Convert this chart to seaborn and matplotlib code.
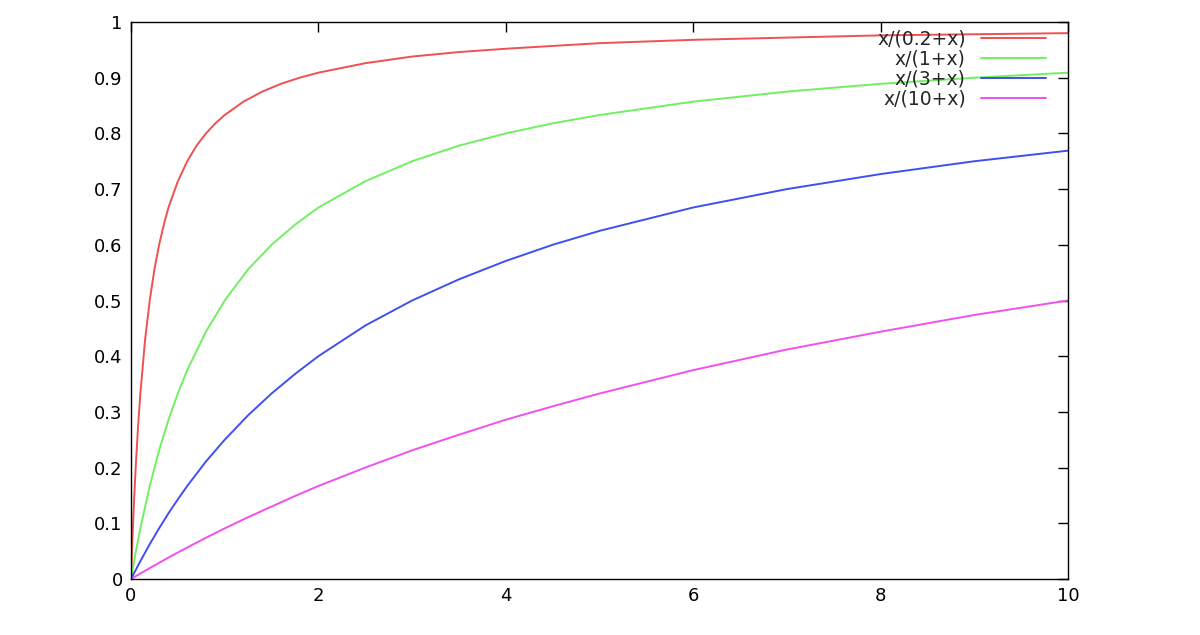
import matplotlib
matplotlib.use("Agg")
import matplotlib.pyplot as plt
import seaborn as sns
import pandas as pd

x_red = [0, 0.01, 0.02, 0.035, 0.05, 0.075, 0.1, 0.15, 0.2, 0.25, 0.3, 0.35, 0.4, 0.5, 0.6, 0.7, 0.8, 0.9, 1, 1.2, 1.4, 1.6, 1.8, 2, 2.5, 3, 3.5, 4, 5, 6, 7, 8, 9, 10]
y_red = [0, 0.048, 0.091, 0.149, 0.2, 0.273, 0.333, 0.429, 0.5, 0.556, 0.6, 0.636, 0.667, 0.714, 0.75, 0.778, 0.8, 0.818, 0.833, 0.857, 0.875, 0.889, 0.9, 0.909, 0.926, 0.938, 0.946, 0.952, 0.962, 0.968, 0.972, 0.976, 0.978, 0.980]
x_common = [0, 0.05, 0.1, 0.2, 0.3, 0.4, 0.5, 0.6, 0.8, 1, 1.25, 1.5, 1.75, 2, 2.5, 3, 3.5, 4, 4.5, 5, 6, 7, 8, 9, 10]
y_green = [0, 0.048, 0.091, 0.167, 0.231, 0.286, 0.333, 0.375, 0.444, 0.5, 0.556, 0.6, 0.636, 0.667, 0.714, 0.75, 0.778, 0.8, 0.818, 0.833, 0.857, 0.875, 0.889, 0.9, 0.909]
y_blue = [0, 0.016, 0.032, 0.0625, 0.091, 0.118, 0.143, 0.167, 0.211, 0.25, 0.294, 0.333, 0.368, 0.4, 0.455, 0.5, 0.538, 0.571, 0.6, 0.625, 0.667, 0.7, 0.727, 0.75, 0.769]
y_mag = [0, 0.005, 0.0099, 0.0196, 0.029, 0.0385, 0.0476, 0.0566, 0.074, 0.0909, 0.111, 0.130, 0.149, 0.167, 0.2, 0.231, 0.259, 0.286, 0.310, 0.333, 0.375, 0.412, 0.444, 0.474, 0.5]
labels = ["x/(0.2+x)", "x/(1+x)", "x/(3+x)", "x/(10+x)"]
colors = ["#f05050", "#70f060", "#4050f0", "#f050f0"]

sns.set_style("white")
fig = plt.figure(figsize=(12, 6.35), dpi=100)
ax = fig.add_axes([131/1200, 1-579/635, (1068-131)/1200, (579-22)/635])
series = [(x_red, y_red), (x_common, y_green), (x_common, y_blue), (x_common, y_mag)]
for (xs, ys), lab, c in zip(series, labels, colors):
    df = pd.DataFrame({"x": xs, "y": ys})
    sns.lineplot(data=df, x="x", y="y", ax=ax, color=c, label=lab, linewidth=1.4)
ax.set_xlim(0, 10)
ax.set_ylim(0, 1)
ax.set_xticks([0, 2, 4, 6, 8, 10])
ax.set_xticklabels(["0", "2", "4", "6", "8", "10"])
ax.set_yticks([i/10 for i in range(11)])
ax.set_yticklabels(["0"] + [f"0.{i}" for i in range(1, 10)] + ["1"])
ax.set_xlabel("")
ax.set_ylabel("")
ax.tick_params(direction="in", length=7, width=1, top=True, right=True, labelsize=13, colors="black", pad=6)
for s in ax.spines.values():
    s.set_color("black")
    s.set_linewidth(1)
ax.legend(loc="upper right", frameon=False, markerfirst=False, fontsize=13.5,
          handlelength=3.5, labelspacing=0.05, borderaxespad=0.0, bbox_to_anchor=(0.985, 1.0))
fig.savefig("out.png", dpi=100)
